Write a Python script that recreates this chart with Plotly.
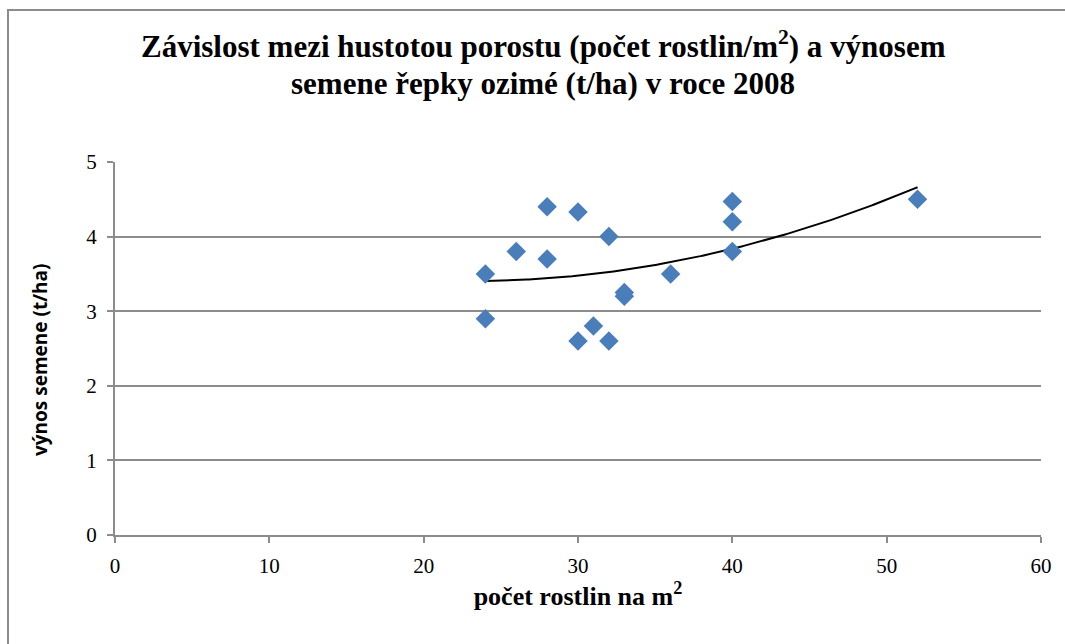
import numpy as np
import plotly.graph_objects as go

# data
plants = [24, 24, 26, 28, 28, 30, 30, 31, 32, 32, 33, 33, 36, 40, 40, 40, 52]
yield_t = [3.5, 2.9, 3.8, 4.4, 3.7, 4.33, 2.6, 2.8, 4.0, 2.6, 3.25, 3.2, 3.5, 4.47, 4.2, 3.8, 4.5]

x_ticks = [0, 10, 20, 30, 40, 50, 60]
y_ticks = [0, 1, 2, 3, 4, 5]

title_lines = ["Závislost mezi hustotou porostu (počet rostlin/m<sup>2</sup>) a výnosem",
               "semene řepky ozimé (t/ha) v roce 2008"]
x_title = "počet rostlin na m<sup>2</sup>"
y_title = "výnos semene (t/ha)"

# polynomial (2nd order) trendline computed from the data
coef = np.polyfit(plants, yield_t, 2)
tx = np.linspace(min(plants), max(plants), 200)
ty = np.polyval(coef, tx)

fig = go.Figure()
fig.add_trace(go.Scatter(x=tx, y=ty, mode="lines",
                         line=dict(color="black", width=2), hoverinfo="skip"))
fig.add_trace(go.Scatter(x=plants, y=yield_t, mode="markers",
                         marker=dict(symbol="diamond", size=15, color="#4A7EBB",
                                     line=dict(width=0))))

W, H = 1065, 644
L, R, T, B = 115, 24, 162, 109
PH = H - T - B
PW = W - L - R

serif = "Liberation Serif, Times New Roman, serif"

fig.update_layout(
    width=W, height=H,
    paper_bgcolor="white", plot_bgcolor="white",
    showlegend=False,
    margin=dict(l=L, r=R, t=T, b=B),
    xaxis=dict(range=[0, 60], tickvals=x_ticks, showgrid=False, zeroline=False,
               showline=True, linecolor="#8C8C8C", linewidth=2,
               ticks="outside", ticklen=6, tickcolor="#8C8C8C", tickwidth=2,
               ticklabelstandoff=5,
               tickfont=dict(family=serif, size=21, color="black"),
               title=dict(text=x_title, standoff=6,
                          font=dict(family=serif, size=26, color="black", weight="bold"))),
    yaxis=dict(range=[0, 5], tickvals=y_ticks, showgrid=True, gridcolor="#8C8C8C", gridwidth=1.5,
               zeroline=False, showline=True, linecolor="#8C8C8C", linewidth=2,
               ticks="outside", ticklen=6, tickcolor="#8C8C8C", tickwidth=2,
               ticklabelstandoff=6,
               tickfont=dict(family=serif, size=21, color="black")),
)

# title lines as annotations
for line, py in zip(title_lines, [44, 83]):
    fig.add_annotation(text=line, xref="paper", yref="paper",
                       x=(543 - L) / PW, y=(H - B - py) / PH,
                       xanchor="center", yanchor="middle", showarrow=False,
                       font=dict(family=serif, size=31, color="black", weight="bold"))

# y axis title
fig.add_annotation(text=y_title, xref="paper", yref="paper",
                   x=(40 - L) / PW, y=(H - B - 360) / PH, textangle=-90,
                   xanchor="center", yanchor="middle", showarrow=False,
                   font=dict(family="Open Sans", size=19, color="black", weight="bold"))

# outer chart border
fig.add_shape(type="rect", xref="paper", yref="paper",
              x0=(8 - L) / PW, x1=(W + 5 - L) / PW,
              y0=(H - B - H - 5) / PH, y1=(H - B - 10) / PH,
              line=dict(color="#8C8C8C", width=2), fillcolor="rgba(0,0,0,0)", layer="below")

fig.write_html("out.html")
